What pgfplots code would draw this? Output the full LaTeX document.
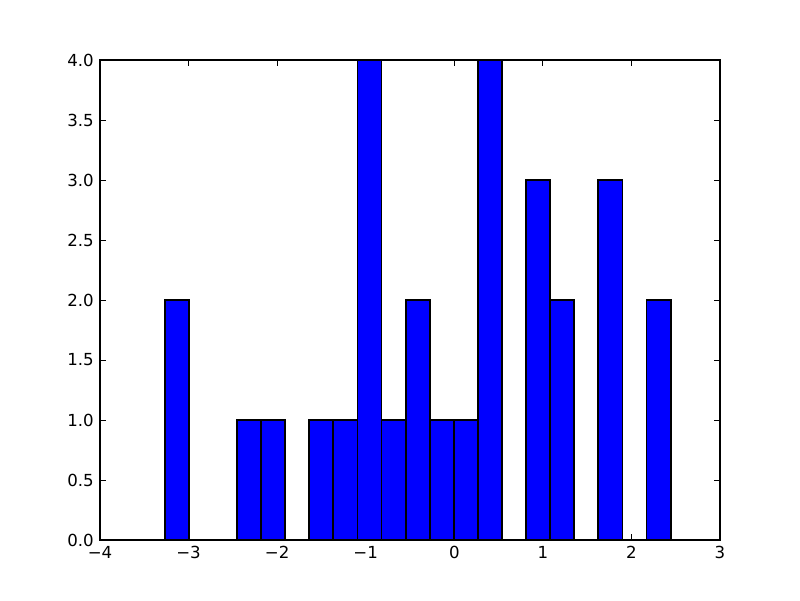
\documentclass[border=0pt]{standalone}
\usepackage{fontspec}
\setmainfont{DejaVu Sans}
\usepackage{pgfplots}
\pgfplotsset{compat=1.18}

\begin{document}
\begin{tikzpicture}
\begin{axis}[
    scale only axis,
    width=6.2in, height=4.8in,
    xmin=-4, xmax=3,
    ymin=0, ymax=4,
    xtick={-4,-3,-2,-1,0,1,2,3},
    xticklabels={−4,−3,−2,−1,0,1,2,3},
    ytick={0,0.5,...,4},
    yticklabel style={/pgf/number format/fixed, /pgf/number format/fixed zerofill, /pgf/number format/precision=1},
    /pgf/number format/assume math mode=true,
    tick align=inside,
    major tick length=4pt,
    tick style={black, line width=0.6pt},
    axis line style={line width=0.8pt},
    every tick label/.append style={font=\fontsize{12}{14}\selectfont},
    xticklabel style={yshift=-1pt},
    yticklabel style={xshift=-1pt},
    clip=false,
]
\coordinate (sw) at (rel axis cs:0,0);
\coordinate (ne) at (rel axis cs:1,1);

% histogram: bin centres, bin width 0.272 (empty bins left out)
\addplot [ybar, bar width=0.272, bar shift=0pt, fill={rgb,1:red,0;green,0;blue,1}, draw=black, line width=1.3pt] coordinates {
(-3.133,2) (-2.317,1) (-2.045,1) (-1.501,1) (-1.229,1)
(-0.957,4) (-0.685,1) (-0.413,2) (-0.141,1) (0.131,1)
(0.403,4) (0.947,3) (1.219,2) (1.763,3) (2.307,2)
};
\end{axis}
\useasboundingbox ([shift={(-1in,-0.6in)}]sw) rectangle ([shift={(0.8in,0.6in)}]ne);
\end{tikzpicture}
\end{document}
